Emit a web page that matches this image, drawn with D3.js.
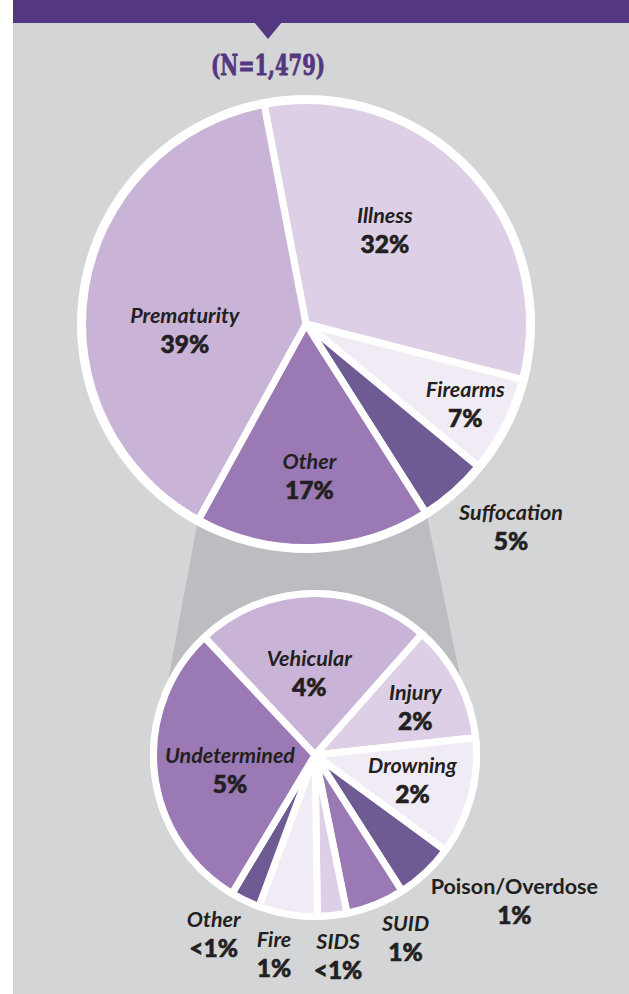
<!DOCTYPE html>
<html>
<head>
<meta charset="utf-8">
<script src="https://cdn.jsdelivr.net/npm/d3@7"></script>
<style>
body { margin: 0; background: #fff; }
svg { display: block; }
</style>
</head>
<body>
<div id="chart"></div>
<script>
// data
var totalN = "(N=1,479)";
var mainCauses = ["Illness", "Firearms", "Suffocation", "Other", "Prematurity"];
var mainPct = [32, 7, 5, 17, 39];
var mainPctText = ["32%", "7%", "5%", "17%", "39%"];
var otherCauses = ["Vehicular", "Injury", "Drowning", "Poison/Overdose", "SUID", "SIDS", "Fire", "Other", "Undetermined"];
var otherPct = [4, 2, 2, 1, 1, 0.5, 1, 0.5, 5];
var otherPctText = ["4%", "2%", "2%", "1%", "1%", "<1%", "1%", "<1%", "5%"];

// colours
var mainColors = ["#dccfe6", "#f0ebf4", "#6f5b94", "#9b79b5", "#c9b3d7"];
var otherColors = ["#c9b3d7", "#dccfe6", "#f0ebf4", "#6f5b94", "#9b79b5", "#dccfe6", "#f0ebf4", "#6f5b94", "#9b79b5"];

// label placement (polar: degrees clockwise from 12 o'clock, radius)
var mainLabelAngle = [42.4, 118.9, 135.8, 178.8, 263.4];
var mainLabelRadius = [117, 182, 294, 160, 122];
var otherLabelAngle = [-4.5, 68.2, 108.9, 127.7, 154.6, 173.7, 191.2, 208.4, 255];
var otherLabelRadius = [74, 108, 103, 252, 211, 210, 211, 213, 88];

var W = 629, H = 994;
var deg = Math.PI / 180;

var svg = d3.select("#chart").append("svg")
    .attr("width", W)
    .attr("height", H);

// background
svg.append("rect")
    .attr("x", 13).attr("y", 0)
    .attr("width", W - 13).attr("height", H)
    .attr("fill", "#d4d5d7");

// header bar + pointer
svg.append("rect")
    .attr("x", 13).attr("y", 0)
    .attr("width", W - 13).attr("height", 23)
    .attr("fill", "#533780");
svg.append("path")
    .attr("d", "M254,22 L282,22 L268,39 Z")
    .attr("fill", "#533780");

svg.append("text")
    .attr("x", 268)
    .attr("y", 75)
    .attr("text-anchor", "middle")
    .attr("fill", "#533780")
    .attr("stroke", "#533780")
    .attr("stroke-width", 0.8)
    .style("font-family", "'DejaVu Serif', serif")
    .style("font-weight", "bold")
    .style("font-stretch", "condensed")
    .style("font-size", "27px")
    .attr("textLength", 114)
    .attr("lengthAdjust", "spacingAndGlyphs")
    .text(totalN);

// pies
var big = {cx: 306, cy: 324, ring: 229, r: 220};
var small = {cx: 315, cy: 755, ring: 165, r: 158};

var mainPie = d3.pie().sort(null)
    .startAngle(-10.8 * deg).endAngle(349.2 * deg)(mainPct);
var otherPie = d3.pie().sort(null)
    .startAngle(-43.2 * deg).endAngle(316.8 * deg)(otherPct);

// funnel from the "Other" slice down to the breakdown pie
var otherSlice = mainPie[3];
function polar(c, a, r) {
    return [c.cx + r * Math.sin(a), c.cy - r * Math.cos(a)];
}
function tangent(p, c, r, pickLeft) {
    var vx = p[0] - c.cx, vy = p[1] - c.cy;
    var d = Math.sqrt(vx * vx + vy * vy);
    var th = Math.atan2(vy, vx), al = Math.acos(r / d);
    var t1 = [c.cx + r * Math.cos(th + al), c.cy + r * Math.sin(th + al)];
    var t2 = [c.cx + r * Math.cos(th - al), c.cy + r * Math.sin(th - al)];
    if (pickLeft) return t1[0] < t2[0] ? t1 : t2;
    return t1[0] > t2[0] ? t1 : t2;
}
var pR = polar(big, otherSlice.startAngle, big.r + 5);
var pL = polar(big, otherSlice.endAngle, big.r + 5);
var tR = tangent(pR, small, small.r, false);
var tL = tangent(pL, small, small.r, true);
svg.append("path")
    .attr("d", d3.line()([pL, pR, tR, tL]) + "Z")
    .attr("fill", "#bcbdc0");

function drawPie(c, arcs, colors) {
    var g = svg.append("g")
        .attr("transform", "translate(" + c.cx + "," + c.cy + ")");
    g.append("circle")
        .attr("r", c.ring)
        .attr("fill", "#fff");
    var arc = d3.arc().innerRadius(0).outerRadius(c.r + 3.5);
    g.selectAll("path.slice")
        .data(arcs)
        .enter()
        .append("path")
        .attr("class", "slice")
        .attr("d", arc)
        .attr("fill", function(d, i) { return colors[i]; })
        .attr("stroke", "#fff")
        .attr("stroke-width", 7)
        .attr("stroke-linejoin", "miter");
    return g;
}

drawPie(big, mainPie, mainColors);
drawPie(small, otherPie, otherColors);

function drawLabels(c, names, pcts, angles, radii, upright) {
    names.forEach(function(name, i) {
        var p = polar(c, angles[i] * deg, radii[i]);
        var g = svg.append("g")
            .attr("transform", "translate(" + p[0] + "," + p[1] + ")");
        g.append("text")
            .attr("y", -15)
            .attr("text-anchor", "middle")
            .attr("fill", "#231f20")
            .style("font-family", "Lato, 'Open Sans', sans-serif")
            .style("font-weight", "bold")
            .style("font-style", upright && upright[i] ? "normal" : "italic")
            .style("font-size", "21.5px")
            .text(name);
        g.append("text")
            .attr("y", 15)
            .attr("text-anchor", "middle")
            .attr("fill", "#231f20")
            .attr("stroke", "#231f20")
            .attr("stroke-width", 0.6)
            .style("font-family", "Lato, 'Open Sans', sans-serif")
            .style("font-weight", "900")
            .style("font-size", "24.5px")
            .text(pcts[i]);
    });
}

drawLabels(big, mainCauses, mainPctText, mainLabelAngle, mainLabelRadius);
drawLabels(small, otherCauses, otherPctText, otherLabelAngle, otherLabelRadius,
    otherCauses.map(function(d) { return d === "Poison/Overdose"; }));
</script>
</body>
</html>
